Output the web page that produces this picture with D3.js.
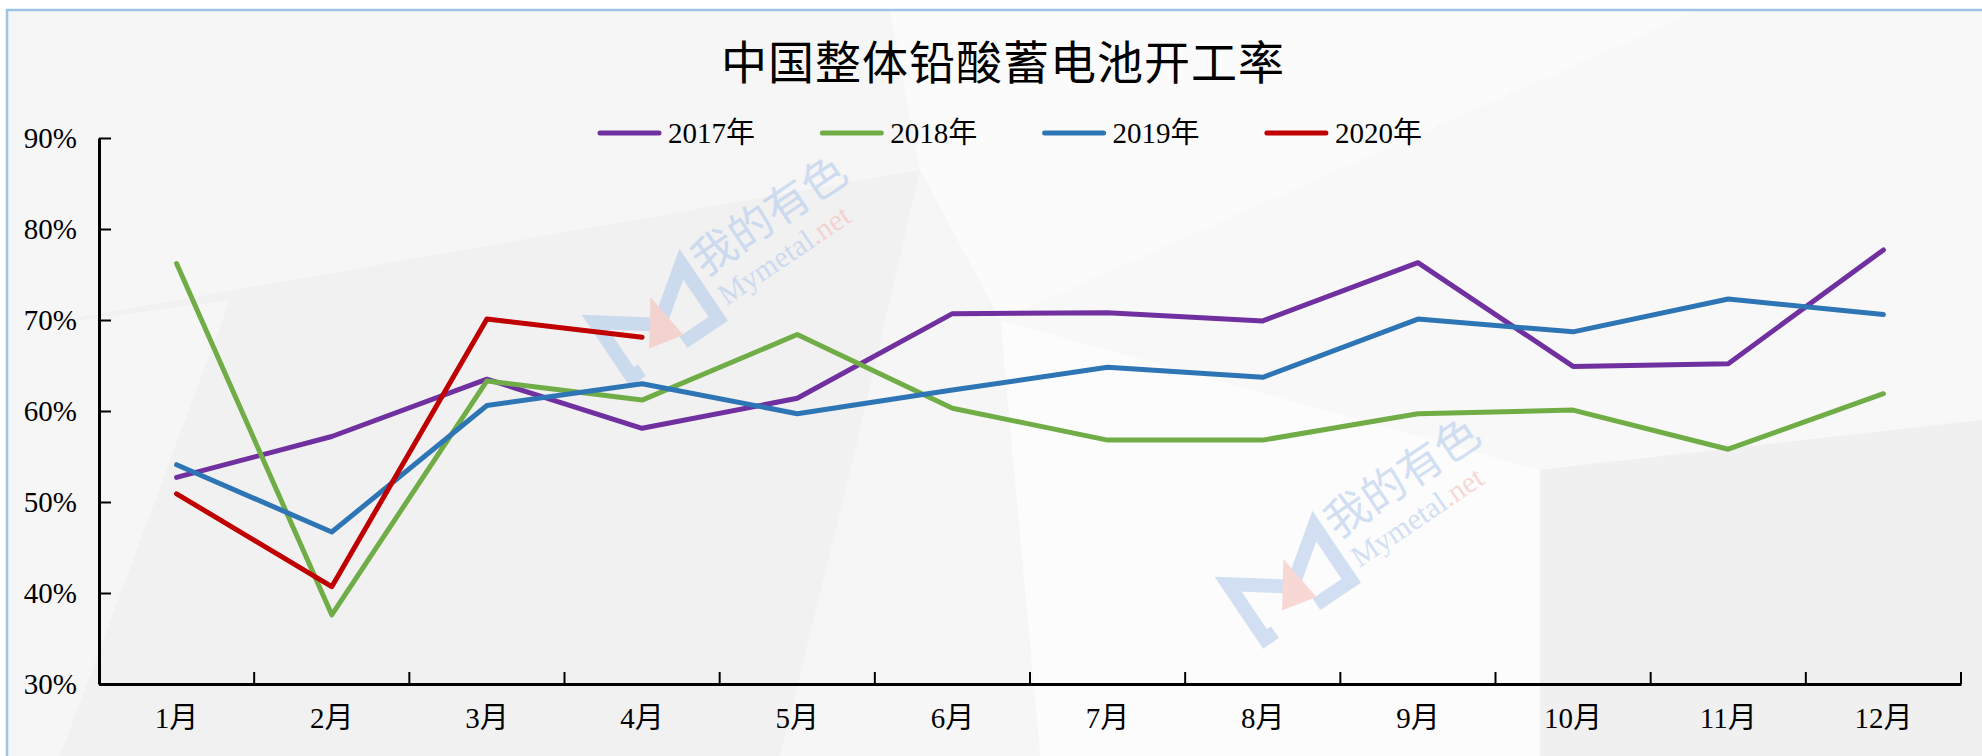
<!DOCTYPE html>
<html>
<head>
<meta charset="utf-8">
<script src="https://cdn.jsdelivr.net/npm/d3@7"></script>
<style>
  body { margin: 0; background: #fff; }
  text { font-family: "Liberation Serif", "Noto Sans CJK SC", serif; }
</style>
</head>
<body>
<script>
var months = ["1月", "2月", "3月", "4月", "5月", "6月", "7月", "8月", "9月", "10月", "11月", "12月"];
var seriesNames = ["2017年", "2018年", "2019年", "2020年"];
var v2017 = [52.7, 57.2, 63.5, 58.1, 61.4, 70.7, 70.8, 69.9, 76.3, 64.9, 65.2, 77.7];
var v2018 = [76.2, 37.6, 63.3, 61.2, 68.4, 60.3, 56.8, 56.8, 59.7, 60.1, 55.8, 61.9];
var v2019 = [54.1, 46.7, 60.6, 63.0, 59.7, 62.3, 64.8, 63.7, 70.1, 68.7, 72.3, 70.6];
var v2020 = [50.9, 40.7, 70.1, 68.1];
var yTicks = [30, 40, 50, 60, 70, 80, 90];
var colors = ["#7030a0", "#70ad47", "#2e75b6", "#c00000"];

var width = 1982, height = 756;
var plotLeft = 99, plotRight = 1961, plotTop = 138, plotBottom = 684;

var svg = d3.select("body").append("svg")
    .attr("width", width)
    .attr("height", height);

// background with faint facets
svg.append("rect").attr("x", 7).attr("y", 10).attr("width", width).attr("height", height).attr("fill", "#f1f1f1");
var facets = [
    { pts: [[7, 10], [890, 10], [920, 170], [7, 330]], c: "#f6f6f6" },
    { pts: [[890, 10], [1700, 10], [1000, 320], [920, 170]], c: "#fbfbfb" },
    { pts: [[1700, 10], [1982, 10], [1982, 420], [1540, 470], [1000, 320]], c: "#f8f8f8" },
    { pts: [[1000, 320], [1540, 470], [1540, 756], [1040, 756]], c: "#fcfcfc" },
    { pts: [[1540, 470], [1982, 420], [1982, 756], [1540, 756]], c: "#f0f0f0" },
    { pts: [[920, 170], [1000, 320], [1040, 756], [780, 756], [860, 430]], c: "#f6f6f6" },
    { pts: [[7, 330], [230, 300], [60, 756], [7, 756]], c: "#f6f6f6" }
];
svg.selectAll("polygon.facet")
    .data(facets)
    .enter().append("polygon")
    .attr("class", "facet")
    .attr("points", function (d) { return d.pts.join(" "); })
    .attr("fill", function (d) { return d.c; });

// frame
svg.append("path")
    .attr("d", "M7,756 L7,10 L1982,10")
    .attr("fill", "none")
    .attr("stroke", "#9dc3e6")
    .attr("stroke-width", 2.5);

// watermarks
function watermark(x0, y0) {
    var w = svg.append("g")
        .attr("transform", "translate(" + x0 + "," + y0 + ") rotate(-34)")
        .attr("opacity", 0.5);
    w.append("path")
        .attr("d", "M-40,36 L-52,36 L-52,-30 L0,8 L52,-30 L52,36 L10,36")
        .attr("fill", "none")
        .attr("stroke", "#a9c4ec")
        .attr("stroke-width", 14)
        .attr("stroke-linejoin", "miter");
    w.append("path")
        .attr("d", "M-22,22 L8,-20 L14,30 Z")
        .attr("fill", "#f4b6b0");
    w.append("text")
        .attr("x", 64).attr("y", -6)
        .attr("font-size", 44)
        .attr("font-family", "Noto Sans CJK SC")
        .attr("fill", "#a9c4ec")
        .text("我的有色");
    var t = w.append("text")
        .attr("x", 66).attr("y", 30)
        .attr("font-size", 30)
        .attr("font-family", "Noto Sans")
        .attr("fill", "#a9c4ec");
    t.append("tspan").text("Mymetal");
    t.append("tspan").attr("fill", "#f4b6b0").text(".net");
}
watermark(655, 318);
watermark(1288, 580);

var x = d3.scaleBand().domain(months).range([plotLeft, plotRight]);
var y = d3.scaleLinear().domain([30, 90]).range([plotBottom, plotTop]);

// title
svg.append("text")
    .attr("x", 1003)
    .attr("y", 63)
    .attr("text-anchor", "middle")
    .attr("dominant-baseline", "central")
    .attr("font-family", "Noto Sans CJK SC")
    .attr("font-size", 46)
    .attr("letter-spacing", 1)
    .attr("font-weight", 400)
    .attr("fill", "#000")
    .text("中国整体铅酸蓄电池开工率");

// y axis
var yAxis = svg.append("g")
    .attr("transform", "translate(" + plotLeft + ",0)")
    .call(d3.axisLeft(y)
        .tickValues(yTicks)
        .tickFormat(function (d) { return d + "%"; })
        .tickSizeInner(-12)
        .tickSizeOuter(0)
        .tickPadding(22));

// x axis
var xAxis = svg.append("g")
    .attr("transform", "translate(0," + plotBottom + ")")
    .call(d3.axisBottom(x).tickSize(0).tickPadding(23));

// band boundary ticks
var bounds = months.map(function (m) { return x(m); }).concat([plotRight]);
xAxis.selectAll("line.bound")
    .data(bounds)
    .enter().append("line")
    .attr("class", "bound")
    .attr("x1", function (d) { return d; })
    .attr("x2", function (d) { return d; })
    .attr("y1", 0)
    .attr("y2", -12)
    .attr("stroke", "#000")
    .attr("stroke-width", 2);

svg.selectAll(".domain").attr("stroke", "#000").attr("stroke-width", 3);
yAxis.selectAll(".tick line").attr("stroke", "#000").attr("stroke-width", 2);
svg.selectAll(".tick text")
    .attr("font-family", "Liberation Serif, Noto Sans CJK SC")
    .attr("font-size", 29)
    .attr("fill", "#000");

// lines
var series = [v2017, v2018, v2019, v2020];
var line = d3.line()
    .x(function (d, i) { return x(months[i]) + x.bandwidth() / 2; })
    .y(function (d) { return y(d); });

svg.selectAll("path.series")
    .data(series)
    .enter().append("path")
    .attr("class", "series")
    .attr("d", line)
    .attr("fill", "none")
    .attr("stroke", function (d, i) { return colors[i]; })
    .attr("stroke-width", 5)
    .attr("stroke-linecap", "round")
    .attr("stroke-linejoin", "round");

// legend
var legend = svg.selectAll("g.legend")
    .data(seriesNames)
    .enter().append("g")
    .attr("class", "legend")
    .attr("transform", function (d, i) { return "translate(" + (600 + i * 222.3) + ",133)"; });

legend.append("line")
    .attr("x1", 0).attr("x2", 59)
    .attr("y1", 0).attr("y2", 0)
    .attr("stroke", function (d, i) { return colors[i]; })
    .attr("stroke-width", 5)
    .attr("stroke-linecap", "round");

legend.append("text")
    .attr("x", 68)
    .attr("y", 0)
    .attr("dy", "0.35em")
    .attr("font-size", 29)
    .attr("fill", "#000")
    .text(function (d) { return d; });
</script>
</body>
</html>
